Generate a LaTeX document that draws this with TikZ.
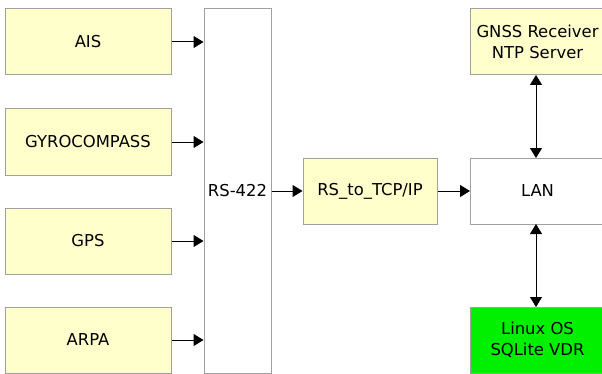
\documentclass[tikz,border=0pt]{standalone}
\usepackage{fontspec}
\setmainfont{DejaVu Sans}
\usepackage{tikz}
\usetikzlibrary{arrows.meta}
\usetikzlibrary{positioning}

\definecolor{boxyellow}{RGB}{255,255,204}
\definecolor{boxgreen}{RGB}{0,240,0}
\definecolor{boxline}{RGB}{160,160,160}

\tikzset{
  unit/.style={draw=boxline, line width=0.75pt, minimum height=49.5pt,
    inner sep=0pt, align=center, font=\fontsize{12.3}{15.8}\selectfont},
  sensor/.style={unit, fill=boxyellow, minimum width=124.5pt},
  link/.style={line width=0.75pt, -{Triangle[length=7.5pt,width=9pt]}},
  duplex/.style={line width=0.75pt, {Triangle[length=7.5pt,width=9pt]}-{Triangle[length=7.5pt,width=9pt]}}
}

\begin{document}
\begin{tikzpicture}[x=0.75pt,y=-0.75pt]
  \clip (0,0) rectangle (602,374);
  % sensors on the left
  \node [sensor] (ais)  at (88,42)  {AIS};
  \node [sensor] (gyro) at (88,142) {GYROCOMPASS};
  \node [sensor] (gps)  at (88,241) {GPS};
  \node [sensor] (arpa) at (88,340) {ARPA};
  % serial bus
  \node [unit, fill=white, minimum width=50.25pt, minimum height=273pt] (rs) at (237.5,191) {RS-422};
  \node [unit, fill=boxyellow, minimum width=100.5pt] (conv) at (370,191) {RS\_to\_TCP/IP};
  % network side
  \node [unit, fill=white, minimum width=100.5pt, anchor=west] (lan) at (470,191) {LAN};
  \node [unit, fill=boxyellow, minimum width=100.5pt, anchor=west] (gnss) at (470,42) {GNSS Receiver\\NTP Server};
  \node [unit, fill=boxgreen, minimum width=100.5pt, anchor=west] (vdr) at (470,340) {Linux OS\\SQLite VDR};
  \coordinate (ais') at (rs.west |- ais);
  \coordinate (gyro') at (rs.west |- gyro);
  \coordinate (gps') at (rs.west |- gps);
  \coordinate (arpa') at (rs.west |- arpa);
  \draw [link] (ais) -- (ais');
  \draw [link] (gyro) -- (gyro');
  \draw [link] (gps) -- (gps');
  \draw [link] (arpa) -- (arpa');
  \draw [link] (rs.east |- conv) -- (conv);
  \draw [link] (conv) -- (lan);
  \coordinate (gnssb) at (536,75);
  \coordinate (lant) at (536,158);
  \coordinate (lanb) at (536,224);
  \coordinate (vdrt) at (536,307);
  \draw [duplex] (gnssb) -- (lant);
  \draw [duplex] (lanb) -- (vdrt);
\end{tikzpicture}
\end{document}
